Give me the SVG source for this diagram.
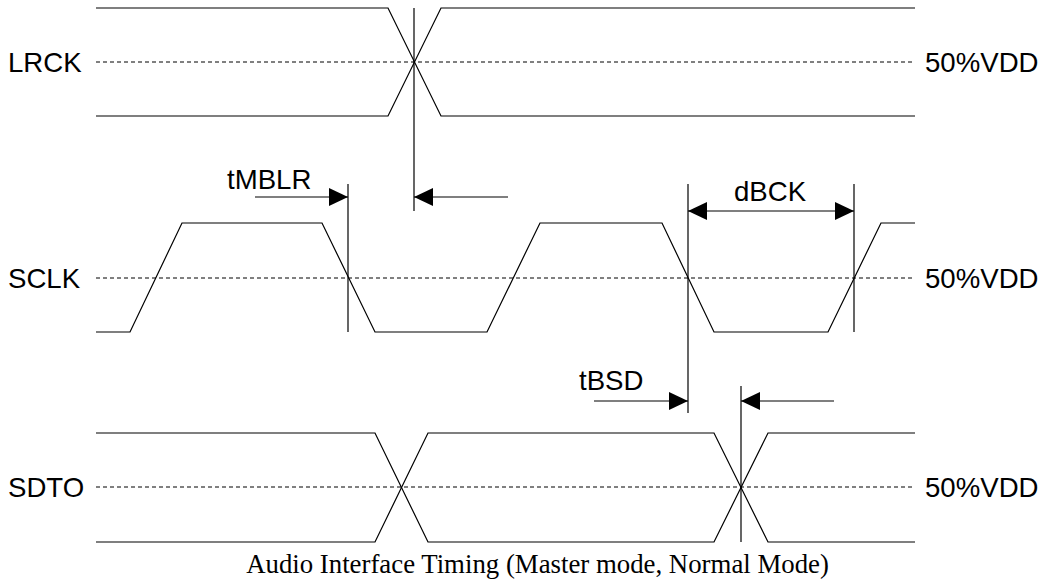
<svg xmlns="http://www.w3.org/2000/svg" width="1057" height="585" viewBox="0 0 1057 585">
<style>
.w{fill:none;stroke:#000;stroke-width:1.2}
.d{fill:none;stroke:#000;stroke-width:1;stroke-dasharray:4 3}
.v{fill:none;stroke:#000;stroke-width:1.2}
.a{fill:none;stroke:#000;stroke-width:1.2}
.t{font-family:"Liberation Sans",Arial,sans-serif;font-size:27.6px;fill:#000}
.c{font-family:"Liberation Serif","Times New Roman",serif;font-size:26.8px;fill:#000}
</style>
<defs>
<marker id="ah" markerUnits="userSpaceOnUse" markerWidth="20" markerHeight="20" viewBox="0 0 20 20" refX="19" refY="10" orient="auto">
<path d="M0,1 L19,10 L0,19 Z" fill="#000"/>
</marker>
</defs>
<rect width="1057" height="585" fill="#fff"/>
<g id="lrck">
<text class="t" x="8" y="72">LRCK</text>
<text class="t" x="925" y="72">50%VDD</text>
<line class="d" x1="96" y1="62" x2="913" y2="62"/>
<path class="w" d="M96,8 H388 L441,116 H915"/>
<path class="w" d="M96,116 H388 L441,8 H915"/>
</g>
<g id="sclk">
<text class="t" x="8" y="288">SCLK</text>
<text class="t" x="925" y="288">50%VDD</text>
<line class="d" x1="96" y1="278" x2="913" y2="278"/>
<path class="w" d="M96,332 H130 L182,223 H322 L375,332 H487 L540,223 H662 L714,332 H828 L881,223 H915"/>
</g>
<g id="sdto">
<text class="t" x="8" y="497">SDTO</text>
<text class="t" x="925" y="497">50%VDD</text>
<line class="d" x1="96" y1="487" x2="913" y2="487"/>
<path class="w" d="M96,433 H375 L428,542 H714 L768,433 H915"/>
<path class="w" d="M96,542 H375 L428,433 H714 L768,542 H915"/>
</g>
<g id="connectors">
<line class="v" x1="414" y1="8" x2="414" y2="211"/>
<line class="v" x1="348" y1="184" x2="348" y2="332"/>
<line class="v" x1="688" y1="184" x2="688" y2="413"/>
<line class="v" x1="854" y1="184" x2="854" y2="332"/>
<line class="v" x1="741" y1="386" x2="741" y2="542"/>
<line class="a" x1="255" y1="197" x2="348" y2="197" marker-end="url(#ah)"/>
<line class="a" x1="508" y1="197" x2="414" y2="197" marker-end="url(#ah)"/>
<line class="a" x1="771" y1="211" x2="688" y2="211" marker-end="url(#ah)"/>
<line class="a" x1="771" y1="211" x2="854" y2="211" marker-end="url(#ah)"/>
<line class="a" x1="594" y1="401" x2="688" y2="401" marker-end="url(#ah)"/>
<line class="a" x1="834" y1="401" x2="741" y2="401" marker-end="url(#ah)"/>
</g>
<g id="labels">
<text class="t" x="227" y="189">tMBLR</text>
<text class="t" x="770" y="201" text-anchor="middle">dBCK</text>
<text class="t" x="579" y="390">tBSD</text>
<text class="c" x="537.5" y="573" text-anchor="middle">Audio Interface Timing (Master mode, Normal Mode)</text>
</g>
</svg>
